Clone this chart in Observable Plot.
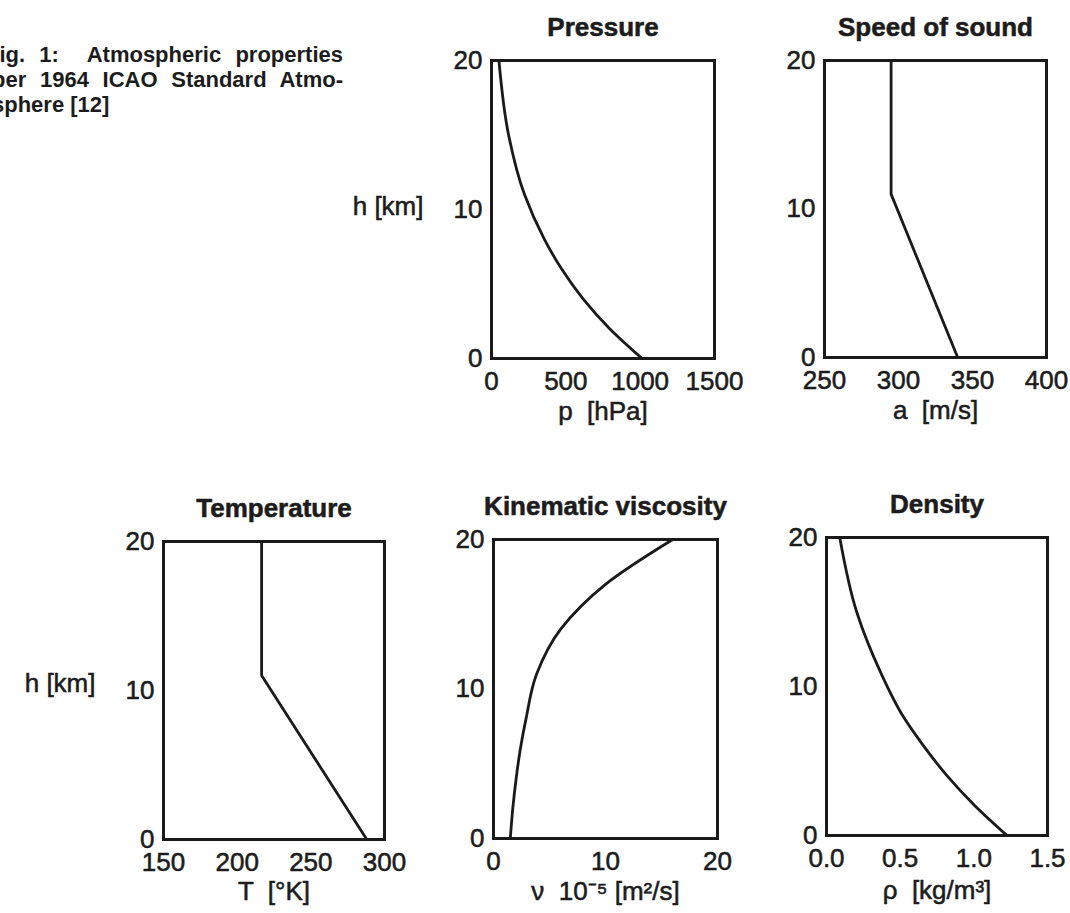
<!DOCTYPE html>
<html>
<head>
<meta charset="utf-8">
<script src="https://cdn.jsdelivr.net/npm/d3@7"></script>
<script src="https://cdn.jsdelivr.net/npm/@observablehq/plot@0.6"></script>
<style>
  html, body { margin: 0; padding: 0; background: #fff; overflow: hidden; }
  body { width: 1070px; height: 913px; position: relative; font-family: "Liberation Sans", Arial, sans-serif; color: #1c1c1c; }
  .cap { position: absolute; left: -8px; width: 351px; font-weight: bold; font-size: 22px; line-height: 25px; white-space: nowrap; }
  .just { text-align: justify; text-align-last: justify; white-space: normal; }
  .panel { position: absolute; }
  .panel svg text { stroke: #1c1c1c; stroke-width: 0.55px; }
</style>
</head>
<body>
<div class="cap just" style="top:42px; left:-14px; width:357px">Fig. 1:&nbsp; Atmospheric properties</div>
<div class="cap just" style="top:67px">per 1964 ICAO Standard Atmo-</div>
<div class="cap" style="top:92px">sphere [12]</div>
<div id="p1" class="panel"></div>
<div id="p2" class="panel"></div>
<div id="p3" class="panel"></div>
<div id="p4" class="panel"></div>
<div id="p5" class="panel"></div>
<script>
// ---- data ----
const pressureH = [0, 2, 4, 6, 8, 11, 15, 20];
const pressure = [1013, 795, 616, 472, 356, 222, 115, 50];        // hPa
const soundH = [0, 11, 20];
const sound = [340, 295, 295];                                     // m/s
const tempH = [0, 11, 20];
const temperature = [288, 216.6, 216.6];                           // K
const viscH = [0, 2, 4, 6, 8, 11, 14, 17, 20];
const viscosity = [1.5, 1.72, 2.02, 2.4, 2.9, 3.85, 6.0, 10.0, 16.0]; // 1e-5 m2/s
const densityH = [0, 2, 4, 6, 8, 11, 15, 20];
const density = [1.225, 1.007, 0.819, 0.66, 0.52, 0.365, 0.205, 0.09]; // kg/m3

const hTicks = [0, 10, 20];
const pressureTicks = [0, 500, 1000, 1500];
const soundTicks = [250, 300, 350, 400];
const tempTicks = [150, 200, 250, 300];
const viscTicks = [0, 10, 20];
const densityTicks = [0, 0.5, 1.0, 1.5];

function panel(id, {h, v, domain, ticks, fmt, title, label, hlabel, hdy, frameLeft, frameTop, W, H, labelDy, curve}) {
  const ml = hlabel ? 165 : 60, mr = 24, mt = 50, mb = 75;
  const data = h.map((d, i) => ({h: d, v: v[i]}));
  const marks = [
    Plot.axisX({ticks, tickFormat: fmt, tickSize: 0, tickPadding: 13, label: null}),
    Plot.axisY({ticks: hTicks, tickSize: 0, tickPadding: 9, label: null}),
    Plot.line(data, {x: "v", y: "h", stroke: "#1a1a1a", strokeWidth: 2.8, curve}),
    Plot.frame({stroke: "#1a1a1a", strokeWidth: 3}),
    Plot.text([title], {frameAnchor: "top", lineAnchor: "middle", dy: -33, text: d => d, fontWeight: "bold"}),
    Plot.text([label], {frameAnchor: "bottom", lineAnchor: "middle", dy: labelDy, text: d => d})
  ];
  if (hlabel) marks.push(Plot.text([{y: 10, t: "h [km]"}], {y: "y", text: "t", frameAnchor: "left", lineAnchor: "middle", dx: -68, dy: hdy, textAnchor: "end"}));
  const chart = Plot.plot({
    width: ml + W + mr, height: mt + H + mb,
    marginLeft: ml, marginRight: mr, marginTop: mt, marginBottom: mb,
    x: {domain},
    y: {domain: [0, 20]},
    style: {fontFamily: '"Liberation Sans", Arial, sans-serif', fontSize: "26px", color: "#1c1c1c", background: "transparent", overflow: "visible", maxWidth: "none"},
    marks
  });
  const el = document.getElementById(id);
  el.style.left = (frameLeft - ml) + "px";
  el.style.top = (frameTop - mt) + "px";
  el.style.width = (ml + W + mr) + "px";
  el.appendChild(chart);
}

panel("p1", {h: pressureH, v: pressure, domain: [0, 1500], ticks: pressureTicks, fmt: d3.format("d"), curve: "monotone-y",
  title: "Pressure", label: "p  [hPa]", hlabel: true, hdy: -3, frameLeft: 491, frameTop: 60, W: 223, H: 298, labelDy: 53});
panel("p2", {h: soundH, v: sound, domain: [250, 400], ticks: soundTicks, fmt: d3.format("d"), curve: "linear",
  title: "Speed of sound", label: "a  [m/s]", hlabel: false, frameLeft: 824, frameTop: 60, W: 222, H: 297, labelDy: 53});
panel("p3", {h: tempH, v: temperature, domain: [150, 300], ticks: tempTicks, fmt: d3.format("d"), curve: "linear",
  title: "Temperature", label: "T  [°K]", hlabel: true, hdy: -7, frameLeft: 163, frameTop: 541, W: 221, H: 298, labelDy: 52});
panel("p4", {h: viscH, v: viscosity, domain: [0, 20], ticks: viscTicks, fmt: d3.format("d"), curve: "monotone-y",
  title: "Kinematic viscosity", label: "ν  10⁻⁵ [m²/s]", hlabel: false, frameLeft: 493, frameTop: 539, W: 224, H: 299, labelDy: 53});
panel("p5", {h: densityH, v: density, domain: [0, 1.5], ticks: densityTicks, fmt: d3.format(".1f"), curve: "monotone-y",
  title: "Density", label: "ρ  [kg/m³]", hlabel: false, frameLeft: 826, frameTop: 537, W: 221, H: 298, labelDy: 55});
</script>
</body>
</html>
